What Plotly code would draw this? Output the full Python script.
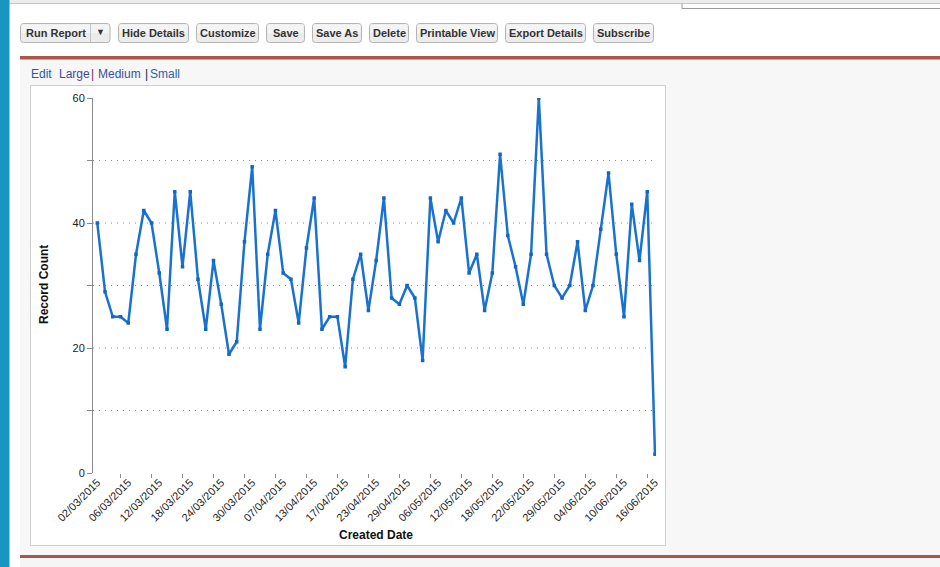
import plotly.graph_objects as go

# ---------------- data ----------------
created_dates = [
    "02/03/2015", "03/03/2015", "04/03/2015", "05/03/2015", "06/03/2015",
    "09/03/2015", "10/03/2015", "11/03/2015", "12/03/2015", "13/03/2015",
    "16/03/2015", "17/03/2015", "18/03/2015", "19/03/2015", "20/03/2015",
    "23/03/2015", "24/03/2015", "25/03/2015", "26/03/2015", "27/03/2015",
    "30/03/2015", "31/03/2015", "01/04/2015", "02/04/2015", "07/04/2015",
    "08/04/2015", "09/04/2015", "10/04/2015", "13/04/2015", "14/04/2015",
    "15/04/2015", "16/04/2015", "17/04/2015", "20/04/2015", "21/04/2015",
    "22/04/2015", "23/04/2015", "24/04/2015", "27/04/2015", "28/04/2015",
    "29/04/2015", "30/04/2015", "01/05/2015", "05/05/2015", "06/05/2015",
    "07/05/2015", "08/05/2015", "11/05/2015", "12/05/2015", "13/05/2015",
    "14/05/2015", "15/05/2015", "18/05/2015", "19/05/2015", "20/05/2015",
    "21/05/2015", "22/05/2015", "26/05/2015", "27/05/2015", "28/05/2015",
    "29/05/2015", "01/06/2015", "02/06/2015", "03/06/2015", "04/06/2015",
    "05/06/2015", "08/06/2015", "09/06/2015", "10/06/2015", "11/06/2015",
    "12/06/2015", "15/06/2015", "16/06/2015",
]

record_count = [
    40, 29, 25, 25, 24, 35, 42, 40, 32, 23,
    45, 33, 45, 31, 23, 34, 27, 19, 21, 37,
    49, 23, 35, 42, 32, 31, 24, 36, 44, 23,
    25, 25, 17, 31, 35, 26, 34, 44, 28, 27,
    30, 28, 18, 44, 37, 42, 40, 44, 32, 35,
    26, 32, 51, 38, 33, 27, 35, 60, 35, 30,
    28, 30, 37, 26, 30, 39, 48, 35, 25, 43,
    34, 45, 3,
]

x_tick_labels = [
    "02/03/2015", "06/03/2015", "12/03/2015", "18/03/2015", "24/03/2015",
    "30/03/2015", "07/04/2015", "13/04/2015", "17/04/2015", "23/04/2015",
    "29/04/2015", "06/05/2015", "12/05/2015", "18/05/2015", "22/05/2015",
    "29/05/2015", "04/06/2015", "10/06/2015", "16/06/2015",
]

y_tick_values = [0, 10, 20, 30, 40, 50, 60]
y_tick_labels = ["0", "", "20", "", "40", "", "60"]
grid_values = [10, 20, 30, 40, 50]

toolbar_buttons = ["Run Report", "Hide Details", "Customize", "Save", "Save As",
                   "Delete", "Printable View", "Export Details", "Subscribe"]

# ---------------- geometry helpers (page pixels -> paper) ----------------
W, H = 940, 567
L, R, T, B = 93, 656, 98, 473
PW, PH = R - L, B - T


def px(x):
    return (x - L) / PW


def py(y):
    return (B - y) / PH


FONT = "Liberation Sans, Arial, sans-serif"

shapes = []
annotations = []


def rect(x0, y0, x1, y1, fill, line=None, lw=0, layer="below"):
    shapes.append(dict(type="rect", xref="paper", yref="paper",
                       x0=px(x0), x1=px(x1), y0=py(y1), y1=py(y0),
                       fillcolor=fill, line=dict(color=line or fill, width=lw),
                       layer=layer))


def hline(x0, x1, y, color, width=1, dash=None):
    d = dict(color=color, width=width)
    if dash:
        d["dash"] = dash
    shapes.append(dict(type="line", xref="paper", yref="paper",
                       x0=px(x0), x1=px(x1), y0=py(y), y1=py(y), line=d, layer="below"))


def vline(x, y0, y1, color, width=1):
    shapes.append(dict(type="line", xref="paper", yref="paper",
                       x0=px(x), x1=px(x), y0=py(y0), y1=py(y1),
                       line=dict(color=color, width=width), layer="below"))


def rrect_path(x0, y0, x1, y1, r):
    a, b, c, d = px(x0), px(x1), py(y0), py(y1)
    rx, ry = r / PW, r / PH
    return (f"M {a+rx},{c} L {b-rx},{c} Q {b},{c} {b},{c-ry} "
            f"L {b},{d+ry} Q {b},{d} {b-rx},{d} L {a+rx},{d} "
            f"Q {a},{d} {a},{d+ry} L {a},{c-ry} Q {a},{c} {a+rx},{c} Z")


def text(x, y, s, size=11, color="#333", bold=False, xanchor="center", angle=0):
    annotations.append(dict(xref="paper", yref="paper", x=px(x), y=py(y),
                            text=f"<b>{s}</b>" if bold else s, showarrow=False,
                            xanchor=xanchor, yanchor="middle", textangle=angle,
                            borderpad=0, font=dict(family=FONT, size=size, color=color)))


# ---------------- page chrome ----------------
rect(9, 0, 940, 3.5, "#ececec")
hline(9, 940, 3.5, "#c6c6c6")
vline(682, 3.5, 8.5, "#9a9a9a")
hline(682, 940, 8.5, "#9a9a9a")
rect(0, 0, 9.5, 567, "#1896c2")

# toolbar buttons
btn_x = [(20.5, 110), (118.5, 188.5), (196.5, 258.5), (266.5, 304.5), (312.5, 361.5),
         (369.5, 408.5), (416.5, 497.5), (505.5, 585.5), (593.5, 653.5)]
for label, (a, b) in zip(toolbar_buttons, btn_x):
    shapes.append(dict(type="path", xref="paper", yref="paper",
                       path=rrect_path(a, 23.5, b, 42.5, 3),
                       fillcolor="#ececec", line=dict(color="#b4b4b4", width=1), layer="below"))
    shapes.append(dict(type="rect", xref="paper", yref="paper",
                       x0=px(a + 1), x1=px(b - 1), y0=py(33), y1=py(24.5),
                       fillcolor="#f4f4f4", line=dict(width=0), layer="below"))
    cx = 56 if label == "Run Report" else (a + b) / 2
    text(cx, 33, label, size=11, color="#333", bold=True)
vline(90.5, 24, 42, "#c4c4c4")
text(100, 32.5, "▼", size=9, color="#333")

# report panel
rect(20, 59, 940, 555, "#f7f7f7")
rect(20, 555, 940, 567, "#f5f5f5")
rect(20, 56, 940, 59.5, "#a9574b")
rect(20, 555, 940, 558, "#a9574b")

# size links
text(30, 74, "Edit", size=12, color="#1e5ea6", xanchor="left")
text(57.5, 74, "Large", size=12, color="#3f4a9c", xanchor="left")
text(90, 74, "|", size=12, color="#6b1f6b", xanchor="left")
text(96.5, 74, "Medium", size=12, color="#3b50a2", xanchor="left")
text(143.5, 74, "|", size=12, color="#202050", xanchor="left")
text(149, 74, "Small", size=12, color="#2b62a8", xanchor="left")

# chart box
rect(30.5, 85.5, 665.5, 545.5, "#ffffff", line="#cdcdcd", lw=1)

# dotted gridlines
for v in grid_values:
    shapes.append(dict(type="line", xref="paper", yref="y", x0=0, x1=1, y0=v, y1=v,
                       line=dict(color="#8c8c8c", width=1, dash="1px,5px"), layer="below"))

# axis titles
text(44, 285, "Record Count", size=12, color="#111", bold=True, angle=-90)
text(376, 535, "Created Date", size=12, color="#111", bold=True)

# ---------------- figure ----------------
fig = go.Figure()
fig.add_trace(go.Scatter(
    x=created_dates, y=record_count, mode="lines+markers",
    line=dict(color="#1a72d0", width=2.5),
    marker=dict(symbol="square", size=3.5, color="#1466c4"),
    hoverinfo="skip", showlegend=False,
))
fig.add_trace(go.Scatter(x=[None], y=[None], xaxis="x2", yaxis="y",
                         hoverinfo="skip", showlegend=False))

n = len(created_dates)
xr = [-0.555, n - 1 + 0.13]
fig.update_layout(
    width=W, height=H,
    margin=dict(l=L, r=W - R, t=T, b=H - B, pad=0),
    paper_bgcolor="#ffffff", plot_bgcolor="rgba(0,0,0,0)",
    showlegend=False,
    xaxis=dict(type="category", range=xr, tickmode="array",
               tickvals=x_tick_labels, ticktext=x_tick_labels,
               tickangle=-45, ticks="", showline=False, showgrid=False, zeroline=False,
               tickfont=dict(family=FONT, size=11, color="#222")),
    xaxis2=dict(type="linear", overlaying="x", anchor="y", side="bottom", range=xr,
                tickmode="array", tickvals=list(range(3, n, 4)),
                ticks="outside", ticklen=4, tickcolor="#8a8a8a", tickwidth=1,
                showticklabels=False, showgrid=False, showline=False, zeroline=False),
    yaxis=dict(range=[0, 60], tickmode="array", tickvals=y_tick_values, ticktext=y_tick_labels,
               ticks="outside", ticklen=5, tickcolor="#8a8a8a", showline=True,
               linecolor="#8a8a8a", linewidth=1, showgrid=False, zeroline=False,
               tickfont=dict(family=FONT, size=11, color="#222")),
    shapes=shapes, annotations=annotations,
)

fig.write_html("out.html", config=dict(displayModeBar=False, staticPlot=True),
               post_script="document.body.style.margin='0';document.body.style.overflow='hidden';")
